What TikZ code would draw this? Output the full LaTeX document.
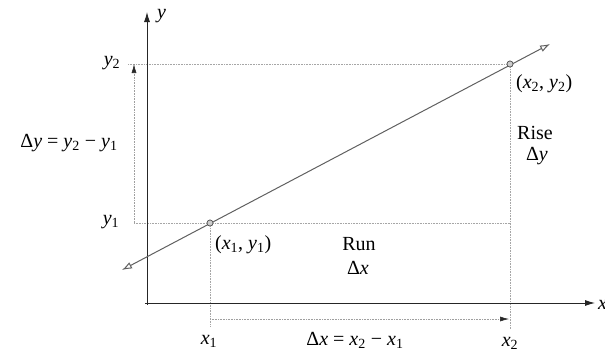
\documentclass[tikz,border=0pt]{standalone}
\usepackage{fontspec}
\setmainfont{Liberation Serif}
\usetikzlibrary{arrows.meta}
\newcommand{\vi}[1]{\textit{#1}}
\begin{document}
\begin{tikzpicture}[x=1pt,y=-1pt,
  axis/.style={line width=0.9pt, black!85, -{Latex[length=10pt,width=6pt]}},
  guide/.style={gray!70, line width=0.6pt, densely dotted},
  dimarrow/.style={gray!75, line width=0.6pt, densely dotted, -{Latex[length=9pt,width=5pt,black!85,fill=black!85]}},
  mainline/.style={gray!75!black, line width=1pt, {Latex[open,length=10pt,width=7pt]}-{Latex[open,length=10pt,width=7pt]}},
  pt/.style={circle, draw=gray!60!black, fill=gray!40, line width=0.6pt, inner sep=0pt, minimum size=6pt},
  lbl/.style={font=\fontsize{20}{23}\selectfont, inner sep=0pt}]
\useasboundingbox (0,0) rectangle (605,351);
% coordinates
\coordinate (ytop) at (147,12);
\coordinate (ybot) at (147,305);
\coordinate (xend) at (595,303);
\coordinate (xstart) at (145,303);
\coordinate (L1) at (122,270);
\coordinate (L2) at (550,44);
\node[pt] (p1) at (210,223) {};
\node[pt] (p2) at (510,64) {};
\coordinate (y2s) at (128,64);
\coordinate (y1s) at (134,223);
\coordinate (dyb) at (134,223);
\coordinate (dyt) at (134,64);
\coordinate (x1b) at (210,327);
\coordinate (x2b) at (510,329);
\coordinate (x2m) at (510,223);
\coordinate (dxl) at (210,319);
\coordinate (dxr) at (509,319);
% guides
\draw[guide] (y2s) -- (p2);
\draw[guide] (y1s) -- (p1) -- (x2m);
\draw[guide] (p1) -- (x1b);
\draw[guide] (p2) -- (x2b);
\draw[dimarrow] (dyb) -- (dyt);
\draw[dimarrow] (dxl) -- (dxr);
% axes
\draw[axis] (ybot) -- (ytop);
\draw[axis] (xstart) -- (xend);
% main line
\draw[mainline] (L1) -- (L2);
\node[pt] at (p1) {};
\node[pt] at (p2) {};
% labels
\node[lbl, anchor=west] (ylab) at (157,16) {\vi{y}};
\node[lbl, anchor=west] (xlab) at (598,305) {\vi{x}};
\node[lbl] (y2lab) at (112,63) {\vi{y}\textsubscript{2}};
\node[lbl] (y1lab) at (111,222) {\vi{y}\textsubscript{1}};
\node[lbl] (dylab) at (69,143) {Δ\vi{y} = \vi{y}\textsubscript{2} − \vi{y}\textsubscript{1}};
\node[lbl, anchor=west] (p2lab) at (516,84) {(\vi{x}\textsubscript{2}, \vi{y}\textsubscript{2})};
\node[lbl] (rise) at (535,133) {Rise};
\node[lbl] (risedy) at (537,156) {Δ\vi{y}};
\node[lbl, anchor=west] (p1lab) at (215,245) {(\vi{x}\textsubscript{1}, \vi{y}\textsubscript{1})};
\node[lbl] (run) at (359,244) {Run};
\node[lbl] (rundx) at (358,268) {Δ\vi{x}};
\node[lbl] (x1lab) at (209,341) {\vi{x}\textsubscript{1}};
\node[lbl] (dxlab) at (355,340) {Δ\vi{x} = \vi{x}\textsubscript{2} − \vi{x}\textsubscript{1}};
\node[lbl] (x2lab) at (510,343) {\vi{x}\textsubscript{2}};
\end{tikzpicture}
\end{document}
